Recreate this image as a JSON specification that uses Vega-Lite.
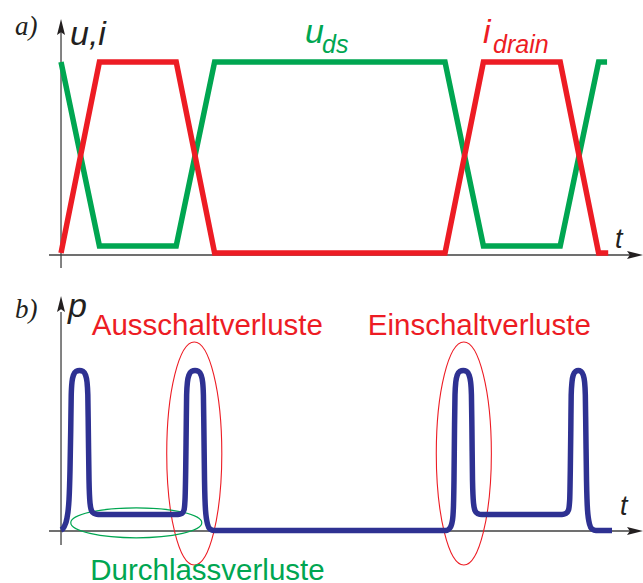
{
  "$schema": "https://vega.github.io/schema/vega-lite/v6.json",
  "padding": 0,
  "spacing": 0,
  "bounds": "flush",
  "config": {"view": {"stroke": null}},
  "datasets": {
    "switching": [
      {"signal": "u_ds", "t": 0, "level": 1},
      {"signal": "u_ds", "t": 1, "level": 0.047},
      {"signal": "u_ds", "t": 3, "level": 0.047},
      {"signal": "u_ds", "t": 4, "level": 1},
      {"signal": "u_ds", "t": 10, "level": 1},
      {"signal": "u_ds", "t": 11, "level": 0.047},
      {"signal": "u_ds", "t": 13, "level": 0.047},
      {"signal": "u_ds", "t": 14, "level": 1},
      {"signal": "u_ds", "t": 14.22, "level": 1},
      {"signal": "i_drain", "t": 0, "level": 0.01},
      {"signal": "i_drain", "t": 1, "level": 1},
      {"signal": "i_drain", "t": 3, "level": 1},
      {"signal": "i_drain", "t": 4, "level": 0.01},
      {"signal": "i_drain", "t": 10, "level": 0.01},
      {"signal": "i_drain", "t": 11, "level": 1},
      {"signal": "i_drain", "t": 13, "level": 1},
      {"signal": "i_drain", "t": 14, "level": 0.01},
      {"signal": "i_drain", "t": 14.25, "level": 0.01}
    ],
    "power": [
      {"t": 0, "p": 0.006}, {"t": 0.078, "p": 0.025}, {"t": 0.156, "p": 0.081}, {"t": 0.208, "p": 0.193},
      {"t": 0.234, "p": 0.379}, {"t": 0.253, "p": 0.627}, {"t": 0.266, "p": 0.845}, {"t": 0.286, "p": 0.925},
      {"t": 0.326, "p": 0.969}, {"t": 0.391, "p": 0.991}, {"t": 0.482, "p": 0.997}, {"t": 0.573, "p": 0.991},
      {"t": 0.638, "p": 0.969}, {"t": 0.677, "p": 0.925}, {"t": 0.698, "p": 0.845}, {"t": 0.711, "p": 0.627},
      {"t": 0.729, "p": 0.317}, {"t": 0.755, "p": 0.174}, {"t": 0.794, "p": 0.127}, {"t": 0.859, "p": 0.109},
      {"t": 0.964, "p": 0.102},
      {"t": 3.047, "p": 0.102}, {"t": 3.151, "p": 0.109}, {"t": 3.203, "p": 0.13}, {"t": 3.229, "p": 0.193},
      {"t": 3.247, "p": 0.379}, {"t": 3.26, "p": 0.627}, {"t": 3.271, "p": 0.845}, {"t": 3.292, "p": 0.925},
      {"t": 3.333, "p": 0.969}, {"t": 3.398, "p": 0.991}, {"t": 3.49, "p": 0.997}, {"t": 3.581, "p": 0.991},
      {"t": 3.646, "p": 0.969}, {"t": 3.688, "p": 0.925}, {"t": 3.708, "p": 0.845}, {"t": 3.721, "p": 0.627},
      {"t": 3.737, "p": 0.317}, {"t": 3.763, "p": 0.13}, {"t": 3.815, "p": 0.043}, {"t": 3.88, "p": 0.012},
      {"t": 3.984, "p": 0.003},
      {"t": 10.026, "p": 0.003}, {"t": 10.13, "p": 0.019}, {"t": 10.195, "p": 0.068}, {"t": 10.221, "p": 0.161},
      {"t": 10.234, "p": 0.317}, {"t": 10.247, "p": 0.627}, {"t": 10.26, "p": 0.845}, {"t": 10.281, "p": 0.925},
      {"t": 10.32, "p": 0.969}, {"t": 10.385, "p": 0.991}, {"t": 10.474, "p": 0.997}, {"t": 10.563, "p": 0.991},
      {"t": 10.625, "p": 0.969}, {"t": 10.667, "p": 0.925}, {"t": 10.688, "p": 0.845}, {"t": 10.701, "p": 0.627},
      {"t": 10.716, "p": 0.317}, {"t": 10.742, "p": 0.174}, {"t": 10.781, "p": 0.127}, {"t": 10.846, "p": 0.109},
      {"t": 10.964, "p": 0.102},
      {"t": 13.047, "p": 0.102}, {"t": 13.151, "p": 0.109}, {"t": 13.216, "p": 0.13}, {"t": 13.247, "p": 0.193},
      {"t": 13.263, "p": 0.379}, {"t": 13.276, "p": 0.627}, {"t": 13.286, "p": 0.845}, {"t": 13.307, "p": 0.925},
      {"t": 13.341, "p": 0.969}, {"t": 13.398, "p": 0.991}, {"t": 13.471, "p": 0.997}, {"t": 13.542, "p": 0.991},
      {"t": 13.599, "p": 0.969}, {"t": 13.635, "p": 0.925}, {"t": 13.654, "p": 0.845}, {"t": 13.667, "p": 0.627},
      {"t": 13.685, "p": 0.317}, {"t": 13.711, "p": 0.13}, {"t": 13.763, "p": 0.043}, {"t": 13.828, "p": 0.012},
      {"t": 13.932, "p": 0.003}, {"t": 14.349, "p": 0.003}
    ]
  },
  "vconcat": [
    {
      "width": 643,
      "height": 280,
      "encoding": {
        "x": {"field": "t", "type": "quantitative", "scale": {"domain": [-1.589, 15.156], "nice": false, "zero": false}, "axis": null},
        "y": {"field": "level", "type": "quantitative", "scale": {"domain": [-0.1295, 1.3212], "nice": false, "zero": false}, "axis": null}
      },
      "layer": [
        {
          "data": {"values": [
            {"t": -0.3125, "t2": 14.87, "level": 0, "level2": 0},
            {"t": 0, "t2": 0, "level": -0.067, "level2": 1.16}
          ]},
          "mark": {"type": "rule", "color": "#404040", "strokeWidth": 1.3},
          "encoding": {"x2": {"field": "t2"}, "y2": {"field": "level2"}}
        },
        {
          "data": {"values": [{"t": 0, "level": 1.181}]},
          "mark": {"type": "point", "shape": "M0,-1L0.5,1L0,0.65L-0.5,1Z", "size": 256, "filled": true, "color": "#231f20", "opacity": 1, "strokeWidth": 0}
        },
        {
          "data": {"values": [{"t": 14.948, "level": 0}]},
          "mark": {"type": "point", "shape": "M1,0L-1,0.5L-0.65,0L-1,-0.5Z", "size": 256, "filled": true, "color": "#231f20", "opacity": 1, "strokeWidth": 0}
        },
        {
          "data": {"name": "switching"},
          "mark": {"type": "line", "strokeWidth": 5.5, "strokeJoin": "miter", "strokeCap": "butt"},
          "encoding": {
            "color": {"field": "signal", "type": "nominal", "scale": {"domain": ["i_drain", "u_ds", "axis"], "range": ["#ed1c24", "#00a651", "#231f20"]}, "legend": null}
          }
        },
        {
          "data": {"values": [{"t": -1.198, "level": 1.14, "label": "a)"}]},
          "mark": {"type": "text", "align": "left", "baseline": "alphabetic", "font": "Liberation Serif", "fontStyle": "italic", "fontSize": 27, "color": "#231f20"},
          "encoding": {"text": {"field": "label"}}
        },
        {
          "data": {"values": [
            {"t": 0.234, "level": 1.088, "label": "u,i", "signal": "axis"},
            {"t": 6.354, "level": 1.098, "label": "u", "signal": "u_ds"},
            {"t": 10.99, "level": 1.098, "label": "i", "signal": "i_drain"}
          ]},
          "mark": {"type": "text", "align": "left", "baseline": "alphabetic", "font": "Liberation Sans", "fontStyle": "italic", "fontSize": 34},
          "encoding": {
            "text": {"field": "label"},
            "color": {"field": "signal", "type": "nominal", "scale": {"domain": ["i_drain", "u_ds", "axis"], "range": ["#ed1c24", "#00a651", "#231f20"]}, "legend": null}
          }
        },
        {
          "data": {"values": [
            {"t": 6.797, "level": 1.047, "label": "ds", "signal": "u_ds"},
            {"t": 11.25, "level": 1.047, "label": "drain", "signal": "i_drain"}
          ]},
          "mark": {"type": "text", "align": "left", "baseline": "alphabetic", "font": "Liberation Sans", "fontStyle": "italic", "fontSize": 25},
          "encoding": {
            "text": {"field": "label"},
            "color": {"field": "signal", "type": "nominal", "scale": {"domain": ["i_drain", "u_ds", "axis"], "range": ["#ed1c24", "#00a651", "#231f20"]}, "legend": null}
          }
        },
        {
          "data": {"values": [{"t": 14.427, "level": 0.036, "label": "t"}]},
          "mark": {"type": "text", "align": "left", "baseline": "alphabetic", "font": "Liberation Sans", "fontStyle": "italic", "fontSize": 27, "color": "#231f20"},
          "encoding": {"text": {"field": "label"}}
        }
      ]
    },
    {
      "width": 643,
      "height": 303,
      "encoding": {
        "x": {"field": "t", "type": "quantitative", "scale": {"domain": [-1.589, 15.156], "nice": false, "zero": false}, "axis": null},
        "y": {"field": "p", "type": "quantitative", "scale": {"domain": [-0.323, 1.559], "nice": false, "zero": false}, "axis": null}
      },
      "layer": [
        {
          "data": {"values": [
            {"t": -0.3125, "t2": 14.87, "p": 0, "p2": 0},
            {"t": 0, "t2": 0, "p": -0.087, "p2": 1.36}
          ]},
          "mark": {"type": "rule", "color": "#404040", "strokeWidth": 1.3},
          "encoding": {"x2": {"field": "t2"}, "y2": {"field": "p2"}}
        },
        {
          "data": {"values": [{"t": 0, "p": 1.41}]},
          "mark": {"type": "point", "shape": "M0,-1L0.5,1L0,0.65L-0.5,1Z", "size": 256, "filled": true, "color": "#231f20", "opacity": 1, "strokeWidth": 0}
        },
        {
          "data": {"values": [{"t": 14.948, "p": 0}]},
          "mark": {"type": "point", "shape": "M1,0L-1,0.5L-0.65,0L-1,-0.5Z", "size": 256, "filled": true, "color": "#231f20", "opacity": 1, "strokeWidth": 0}
        },
        {
          "data": {"values": [{"t": 3.47, "p": 0.481}, {"t": 10.49, "p": 0.481}]},
          "mark": {"type": "point", "shape": "M0,-1A0.247,1,0,1,1,0,1A0.247,1,0,1,1,0,-1Z", "size": 49729, "filled": false, "color": "#ed1c24", "opacity": 1, "strokeWidth": 1.1}
        },
        {
          "data": {"values": [{"t": 1.96, "p": 0.051}]},
          "mark": {"type": "point", "shape": "M-1,0A1,0.229,0,1,1,1,0A1,0.229,0,1,1,-1,0Z", "size": 17161, "filled": false, "color": "#00a651", "opacity": 1, "strokeWidth": 1.2}
        },
        {
          "data": {"name": "power"},
          "mark": {"type": "line", "color": "#2e3192", "strokeWidth": 5.5, "interpolate": "monotone", "strokeCap": "butt", "strokeJoin": "round"}
        },
        {
          "data": {"values": [{"t": -1.198, "p": 1.323, "label": "b)"}]},
          "mark": {"type": "text", "align": "left", "baseline": "alphabetic", "font": "Liberation Serif", "fontStyle": "italic", "fontSize": 27, "color": "#231f20"},
          "encoding": {"text": {"field": "label"}}
        },
        {
          "data": {"values": [{"t": 0.182, "p": 1.329, "label": "p"}]},
          "mark": {"type": "text", "align": "left", "baseline": "alphabetic", "font": "Liberation Sans", "fontStyle": "italic", "fontSize": 34, "color": "#231f20"},
          "encoding": {"text": {"field": "label"}}
        },
        {
          "data": {"values": [{"t": 14.557, "p": 0.099, "label": "t"}]},
          "mark": {"type": "text", "align": "left", "baseline": "alphabetic", "font": "Liberation Sans", "fontStyle": "italic", "fontSize": 27, "color": "#231f20"},
          "encoding": {"text": {"field": "label"}}
        },
        {
          "data": {"values": [
            {"t": 0.8, "p": 1.217, "label": "Ausschaltverluste"},
            {"t": 7.99, "p": 1.217, "label": "Einschaltverluste"}
          ]},
          "mark": {"type": "text", "align": "left", "baseline": "alphabetic", "font": "Liberation Sans", "fontSize": 29.5, "color": "#ed1c24"},
          "encoding": {"text": {"field": "label"}}
        },
        {
          "data": {"values": [{"t": 0.76, "p": -0.304, "label": "Durchlassverluste"}]},
          "mark": {"type": "text", "align": "left", "baseline": "alphabetic", "font": "Liberation Sans", "fontSize": 29.5, "color": "#00a651"},
          "encoding": {"text": {"field": "label"}}
        }
      ]
    }
  ]
}
